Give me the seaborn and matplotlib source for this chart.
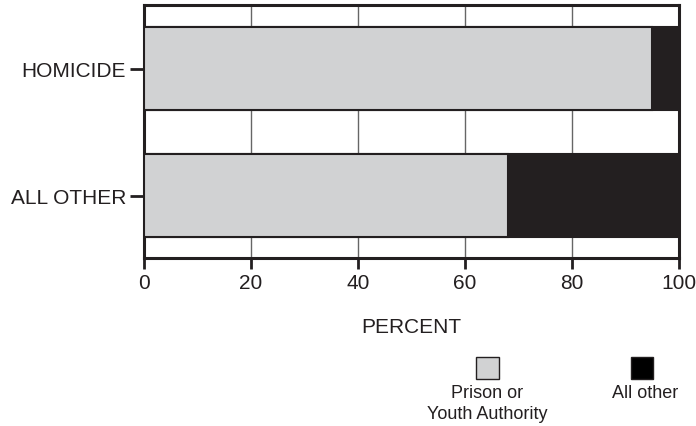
import matplotlib
matplotlib.use("Agg")
import matplotlib.pyplot as plt
import seaborn as sns
import pandas as pd
from matplotlib.patches import Rectangle
from matplotlib import font_manager

categories = ["HOMICIDE", "ALL OTHER"]
prison_youth = [95, 68]
all_other = [5, 32]
xticks = [0, 20, 40, 60, 80, 100]

light = "#d1d2d3"
dark = "#231f20"

sns.set_theme(style="white")
plt.rcParams["font.family"] = ["Liberation Sans", "DejaVu Sans"]

names = {f.name for f in font_manager.fontManager.ttflist}
narrow = "Liberation Sans Narrow" if "Liberation Sans Narrow" in names else "Liberation Sans"

df = pd.DataFrame({
    "cat": categories,
    "prison": prison_youth,
    "total": [p + o for p, o in zip(prison_youth, all_other)],
})

W, H = 696, 427
fig = plt.figure(figsize=(6.96, 4.27), dpi=100)
ax = fig.add_axes([144 / W, 1 - 259 / H, (679 - 144) / W, (259 - 6) / H])

sns.barplot(data=df, y="cat", x="total", orient="h", color=dark, width=0.654,
            edgecolor=dark, linewidth=1.5, saturation=1, ax=ax, zorder=3)
sns.barplot(data=df, y="cat", x="prison", orient="h", color=light, width=0.654,
            edgecolor=dark, linewidth=1.5, saturation=1, ax=ax, zorder=4)

ax.set_xlim(0, 100)
ax.set_ylim(1.49, -0.5)
ax.set_xticks(xticks)
ax.set_xticklabels([str(t) for t in xticks], fontsize=15, color=dark,
                   family=[narrow, "DejaVu Sans"])
ax.tick_params(axis="x", length=8, width=2, color=dark, bottom=True, pad=3)
ax.tick_params(axis="y", length=10, width=2, color=dark, left=True, pad=3,
               labelsize=15, labelcolor=dark)
ax.set_xlabel("PERCENT", fontsize=15, color=dark, labelpad=18)
ax.set_ylabel("")
ax.xaxis.grid(True, color="#666666", linewidth=1, zorder=0)
ax.set_axisbelow(True)
for s in ax.spines.values():
    s.set_visible(True)
    s.set_color(dark)
    s.set_linewidth(2.2)

def fig_rect(x0, y0, x1, y1, fc):
    fig.add_artist(Rectangle((x0 / W, 1 - y1 / H), (x1 - x0) / W, (y1 - y0) / H,
                             facecolor=fc, edgecolor=dark, linewidth=1,
                             transform=fig.transFigure))

fig_rect(476, 358, 499, 380, light)
fig_rect(631, 358, 653, 380, "black")
fig.text(487 / W, 1 - 394 / H, "Prison or", ha="center", va="center", fontsize=13, color=dark)
fig.text(487 / W, 1 - 415 / H, "Youth Authority", ha="center", va="center", fontsize=13, color=dark)
fig.text(645 / W, 1 - 394 / H, "All other", ha="center", va="center", fontsize=13, color=dark)

fig.savefig("out.png", dpi=100)
